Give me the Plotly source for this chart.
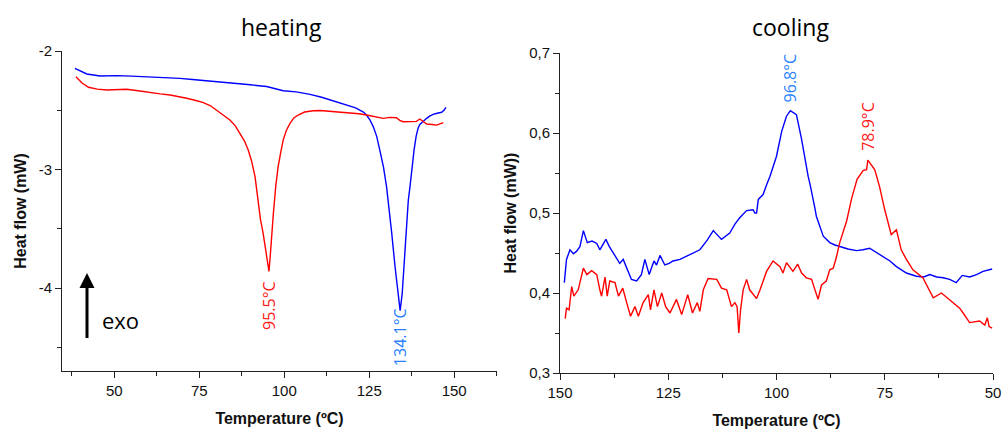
import plotly.graph_objects as go

# ---------------- data ----------------
heat_blue_T = [38.4, 40.0, 41.9, 45.8, 50.7, 55.0, 60.5, 65.0, 69.3, 73.0, 77.2, 81.0, 85.0, 90.0, 94.8,
               99.7, 103.5, 107.6, 111.0, 114.4, 117.0, 119.3, 121.0, 122.2, 123.3, 124.2, 125.2, 126.2,
               127.2, 128.1, 129.2, 130.1, 130.6, 131.6, 132.6, 133.4, 134.1, 134.7, 135.2, 135.9, 136.5,
               137.0, 137.6, 138.2, 138.8, 139.4, 139.9, 140.9, 141.9, 142.8, 143.8, 145.0, 146.3, 147.0, 147.6]
heat_blue = [-2.146, -2.170, -2.194, -2.211, -2.208, -2.212, -2.217, -2.224, -2.231, -2.240, -2.250, -2.262,
             -2.273, -2.285, -2.300, -2.335, -2.345, -2.366, -2.390, -2.420, -2.440, -2.464, -2.480, -2.498,
             -2.515, -2.540, -2.580, -2.640, -2.720, -2.835, -2.980, -3.145, -3.257, -3.530, -3.820, -4.050,
             -4.190, -4.050, -3.820, -3.540, -3.260, -3.145, -2.980, -2.835, -2.720, -2.650, -2.620, -2.590,
             -2.568, -2.550, -2.535, -2.525, -2.517, -2.500, -2.475]

heat_red_T = [38.7, 40.5, 42.4, 45.0, 47.8, 50.5, 53.6, 57.0, 60.5, 63.5, 66.4, 69.0, 71.3, 74.0, 76.2, 78.3,
              80.1, 82.2, 84.0, 85.6, 87.0, 88.3, 89.4, 90.4, 91.4, 92.0, 93.0, 93.8, 94.6, 95.5, 95.9, 96.3,
              96.8, 97.5, 98.2, 99.0, 99.7, 100.6, 101.7, 102.8, 104.1, 106.0, 108.5, 110.5, 112.5, 116.0,
              119.3, 122.0, 124.2, 126.5, 129.1, 131.0, 133.0, 134.0, 135.0, 137.0, 138.9, 139.9, 141.0,
              141.9, 143.5, 144.8, 146.8]
heat_red = [-2.217, -2.270, -2.306, -2.322, -2.329, -2.326, -2.323, -2.335, -2.352, -2.362, -2.371, -2.384,
            -2.399, -2.418, -2.436, -2.462, -2.498, -2.540, -2.582, -2.632, -2.695, -2.760, -2.835, -2.930,
            -3.060, -3.200, -3.420, -3.540, -3.700, -3.860, -3.720, -3.540, -3.370, -3.140, -2.976, -2.850,
            -2.750, -2.670, -2.610, -2.565, -2.540, -2.515, -2.504, -2.502, -2.506, -2.512, -2.520, -2.530,
            -2.540, -2.552, -2.568, -2.560, -2.563, -2.585, -2.597, -2.596, -2.594, -2.574, -2.600, -2.616,
            -2.620, -2.625, -2.605]

cool_blue_T = [149.0, 148.5, 147.7, 146.9, 146.2, 145.4, 144.6, 143.7, 142.6, 141.5, 140.8, 139.4, 138.6,
               137.7, 136.2, 135.4, 134.6, 133.5, 132.3, 131.2, 130.4, 129.4, 128.3, 127.7, 126.9, 125.8,
               124.8, 123.9, 122.3, 120.8, 119.2, 117.7, 116.0, 114.6, 112.7, 110.8, 109.6, 108.5, 106.9,
               105.4, 105.0, 104.6, 104.2, 103.1, 102.3, 101.5, 100.0, 98.8, 97.7, 96.8, 95.4, 94.2, 92.7,
               92.3, 91.2, 90.8, 89.2, 87.7, 86.5, 85.4, 83.5, 81.5, 80.0, 78.5, 77.0, 75.4, 73.8, 72.3,
               70.0, 67.7, 66.0, 64.6, 63.0, 61.5, 60.0, 58.5, 57.1, 55.4, 53.8, 52.3, 50.2]
cool_blue = [0.413, 0.442, 0.454, 0.449, 0.452, 0.458, 0.478, 0.463, 0.465, 0.462, 0.454, 0.467, 0.458,
             0.450, 0.437, 0.442, 0.431, 0.417, 0.415, 0.423, 0.442, 0.423, 0.440, 0.435, 0.447, 0.435,
             0.437, 0.440, 0.442, 0.446, 0.451, 0.454, 0.466, 0.478, 0.467, 0.475, 0.486, 0.494, 0.503,
             0.504, 0.500, 0.500, 0.517, 0.523, 0.535, 0.546, 0.571, 0.602, 0.621, 0.628, 0.623, 0.592,
             0.546, 0.537, 0.508, 0.496, 0.471, 0.463, 0.460, 0.458, 0.455, 0.453, 0.454, 0.456, 0.451,
             0.446, 0.440, 0.433, 0.425, 0.421, 0.420, 0.423, 0.420, 0.419, 0.417, 0.413, 0.422, 0.420,
             0.423, 0.427, 0.430]

cool_red_T = [148.8, 148.5, 147.9, 147.3, 146.8, 145.8, 144.6, 143.8, 142.7, 141.5, 140.8, 140.4, 139.6,
              139.1, 138.5, 137.3, 136.5, 135.5, 134.6, 133.7, 132.7, 131.9, 130.8, 129.6, 129.1, 128.3,
              127.5, 126.5, 125.6, 124.6, 123.1, 121.9, 120.5, 119.4, 118.3, 117.7, 116.9, 115.8, 113.8,
              112.7, 111.5, 110.4, 109.6, 109.1, 108.7, 108.3, 107.7, 106.9, 106.2, 105.4, 104.6, 103.8,
              102.3, 100.8, 99.2, 98.5, 97.7, 96.2, 95.1, 94.2, 93.1, 91.9, 91.2, 90.4, 89.6, 88.5, 87.7,
              86.9, 86.2, 85.4, 83.8, 82.7, 81.4, 80.0, 79.2, 78.9, 77.3, 76.2, 75.0, 74.2, 73.5, 72.3,
              71.2, 70.0, 68.5, 66.2, 63.8, 61.9, 59.6, 57.7, 56.9, 55.4, 53.1, 51.9, 51.3, 50.9, 50.2]
cool_red = [0.368, 0.381, 0.379, 0.408, 0.396, 0.404, 0.431, 0.423, 0.428, 0.423, 0.404, 0.396, 0.420,
            0.396, 0.415, 0.413, 0.396, 0.406, 0.388, 0.371, 0.383, 0.371, 0.388, 0.398, 0.379, 0.404,
            0.383, 0.400, 0.383, 0.375, 0.392, 0.373, 0.398, 0.375, 0.388, 0.377, 0.404, 0.418, 0.417,
            0.406, 0.404, 0.383, 0.388, 0.383, 0.350, 0.379, 0.404, 0.417, 0.404, 0.398, 0.393, 0.404,
            0.427, 0.440, 0.433, 0.425, 0.438, 0.427, 0.436, 0.425, 0.419, 0.417, 0.404, 0.392, 0.410,
            0.415, 0.429, 0.431, 0.444, 0.463, 0.490, 0.517, 0.542, 0.553, 0.554, 0.566, 0.554, 0.533,
            0.504, 0.488, 0.473, 0.479, 0.454, 0.442, 0.429, 0.419, 0.394, 0.400, 0.390, 0.381, 0.375,
            0.363, 0.365, 0.360, 0.369, 0.358, 0.356]

heat_x_ticks = [50, 75, 100, 125, 150]
heat_y_ticks = [-2, -3, -4]
heat_y_labels = ["-2", "-3", "-4"]
heat_y_minor = [-2.5, -3.5, -4.5]
cool_x_ticks = [150, 125, 100, 75, 50]
cool_y_ticks = [0.3, 0.4, 0.5, 0.6, 0.7]
cool_y_labels = ["0,3", "0,4", "0,5", "0,6", "0,7"]
cool_y_minor = [0.35, 0.45, 0.55, 0.65]

peak_labels = [("95.5°C", 95.5, "x", "#ff1a1a", 0.294),
               ("134.1°C", 134.1, "x", "#2a7fff", 0.2199),
               ("96.8°C", 96.8, "x2", "#2a7fff", 0.8194),
               ("78.9°C", 78.9, "x2", "#ff1a1a", 0.7083)]

BLUE = "#0000ff"
RED = "#ff0000"
W, H = 1006, 432

fig = go.Figure()
fig.add_trace(go.Scatter(x=heat_blue_T, y=heat_blue, mode="lines", line=dict(color=BLUE, width=1.4),
                         xaxis="x", yaxis="y"))
fig.add_trace(go.Scatter(x=heat_red_T, y=heat_red, mode="lines", line=dict(color=RED, width=1.4),
                         xaxis="x", yaxis="y"))
fig.add_trace(go.Scatter(x=cool_blue_T, y=cool_blue, mode="lines", line=dict(color=BLUE, width=1.4),
                         xaxis="x2", yaxis="y2"))
fig.add_trace(go.Scatter(x=cool_red_T, y=cool_red, mode="lines", line=dict(color=RED, width=1.4),
                         xaxis="x2", yaxis="y2"))

tickfont = dict(family="Liberation Sans, Arial", size=15, color="#111")
titlefont = dict(family="Liberation Sans, Arial", size=16, color="#111", weight="bold")
common = dict(showline=True, linecolor="#222", linewidth=1, ticks="outside", ticklen=6, tickwidth=1,
              tickcolor="#222", showgrid=False, zeroline=False, tickfont=tickfont, fixedrange=True,
              automargin=False)

fig.update_layout(
    width=W, height=H, margin=dict(l=0, r=0, t=0, b=0),
    paper_bgcolor="white", plot_bgcolor="white", showlegend=False,
    xaxis=dict(domain=[62 / W, 497 / W], range=[34.6, 162.6], anchor="y",
               tickmode="array", tickvals=heat_x_ticks,
               minor=dict(dtick=12.5, tick0=0, ticks="outside", ticklen=4, tickcolor="#222"),
               title=dict(text="Temperature (ºC)", font=titlefont, standoff=14), **common),
    yaxis=dict(domain=[1 - 371 / H, 1 - 51 / H], range=[-4.70, -2.0], anchor="x",
               tickmode="array", tickvals=heat_y_ticks, ticktext=heat_y_labels,
               minor=dict(tickmode="array", tickvals=heat_y_minor, ticks="outside", ticklen=4, tickcolor="#222"),
               title=dict(text="Heat flow (mW)", font=titlefont, standoff=8), **common),
    xaxis2=dict(domain=[560 / W, 993 / W], range=[150, 50], anchor="y2",
                tickmode="array", tickvals=cool_x_ticks,
                minor=dict(dtick=12.5, tick0=0, ticks="outside", ticklen=4, tickcolor="#222"),
                title=dict(text="Temperature (ºC)", font=titlefont, standoff=14), **common),
    yaxis2=dict(domain=[1 - 373 / H, 1 - 53 / H], range=[0.3, 0.7], anchor="x2",
                tickmode="array", tickvals=cool_y_ticks, ticktext=cool_y_labels,
                minor=dict(tickmode="array", tickvals=cool_y_minor, ticks="outside", ticklen=4, tickcolor="#222"),
                title=dict(text="Heat flow (mW))", font=titlefont, standoff=8), **common),
)

ann_font = "Open Sans, Noto Sans, sans-serif"
annotations = [
    dict(text="heating", x=281 / W, y=1 - 27 / H, xref="paper", yref="paper", showarrow=False,
         font=dict(family=ann_font, size=23, color="#000"), xanchor="center", yanchor="middle"),
    dict(text="cooling", x=790 / W, y=1 - 27 / H, xref="paper", yref="paper", showarrow=False,
         font=dict(family=ann_font, size=23, color="#000"), xanchor="center", yanchor="middle"),
    dict(text="exo", x=120 / W, y=1 - 320 / H, xref="paper", yref="paper", showarrow=False,
         font=dict(family=ann_font, size=22, color="#000"), xanchor="center", yanchor="middle"),
    dict(text=" ", x=87 / W, y=1 - 273 / H, xref="paper", yref="paper", showarrow=True,
         ax=0, ay=75, arrowhead=2, arrowsize=1, arrowwidth=3, arrowcolor="#000"),
]
for txt, xv, xr, col, yp in peak_labels:
    annotations.append(dict(text=txt, x=xv, xref=xr, y=yp, yref="paper", showarrow=False, textangle=-90,
                            font=dict(family=ann_font, size=16, color=col), xanchor="center", yanchor="middle"))
fig.update_layout(annotations=annotations)

fig.write_html("out.html")
